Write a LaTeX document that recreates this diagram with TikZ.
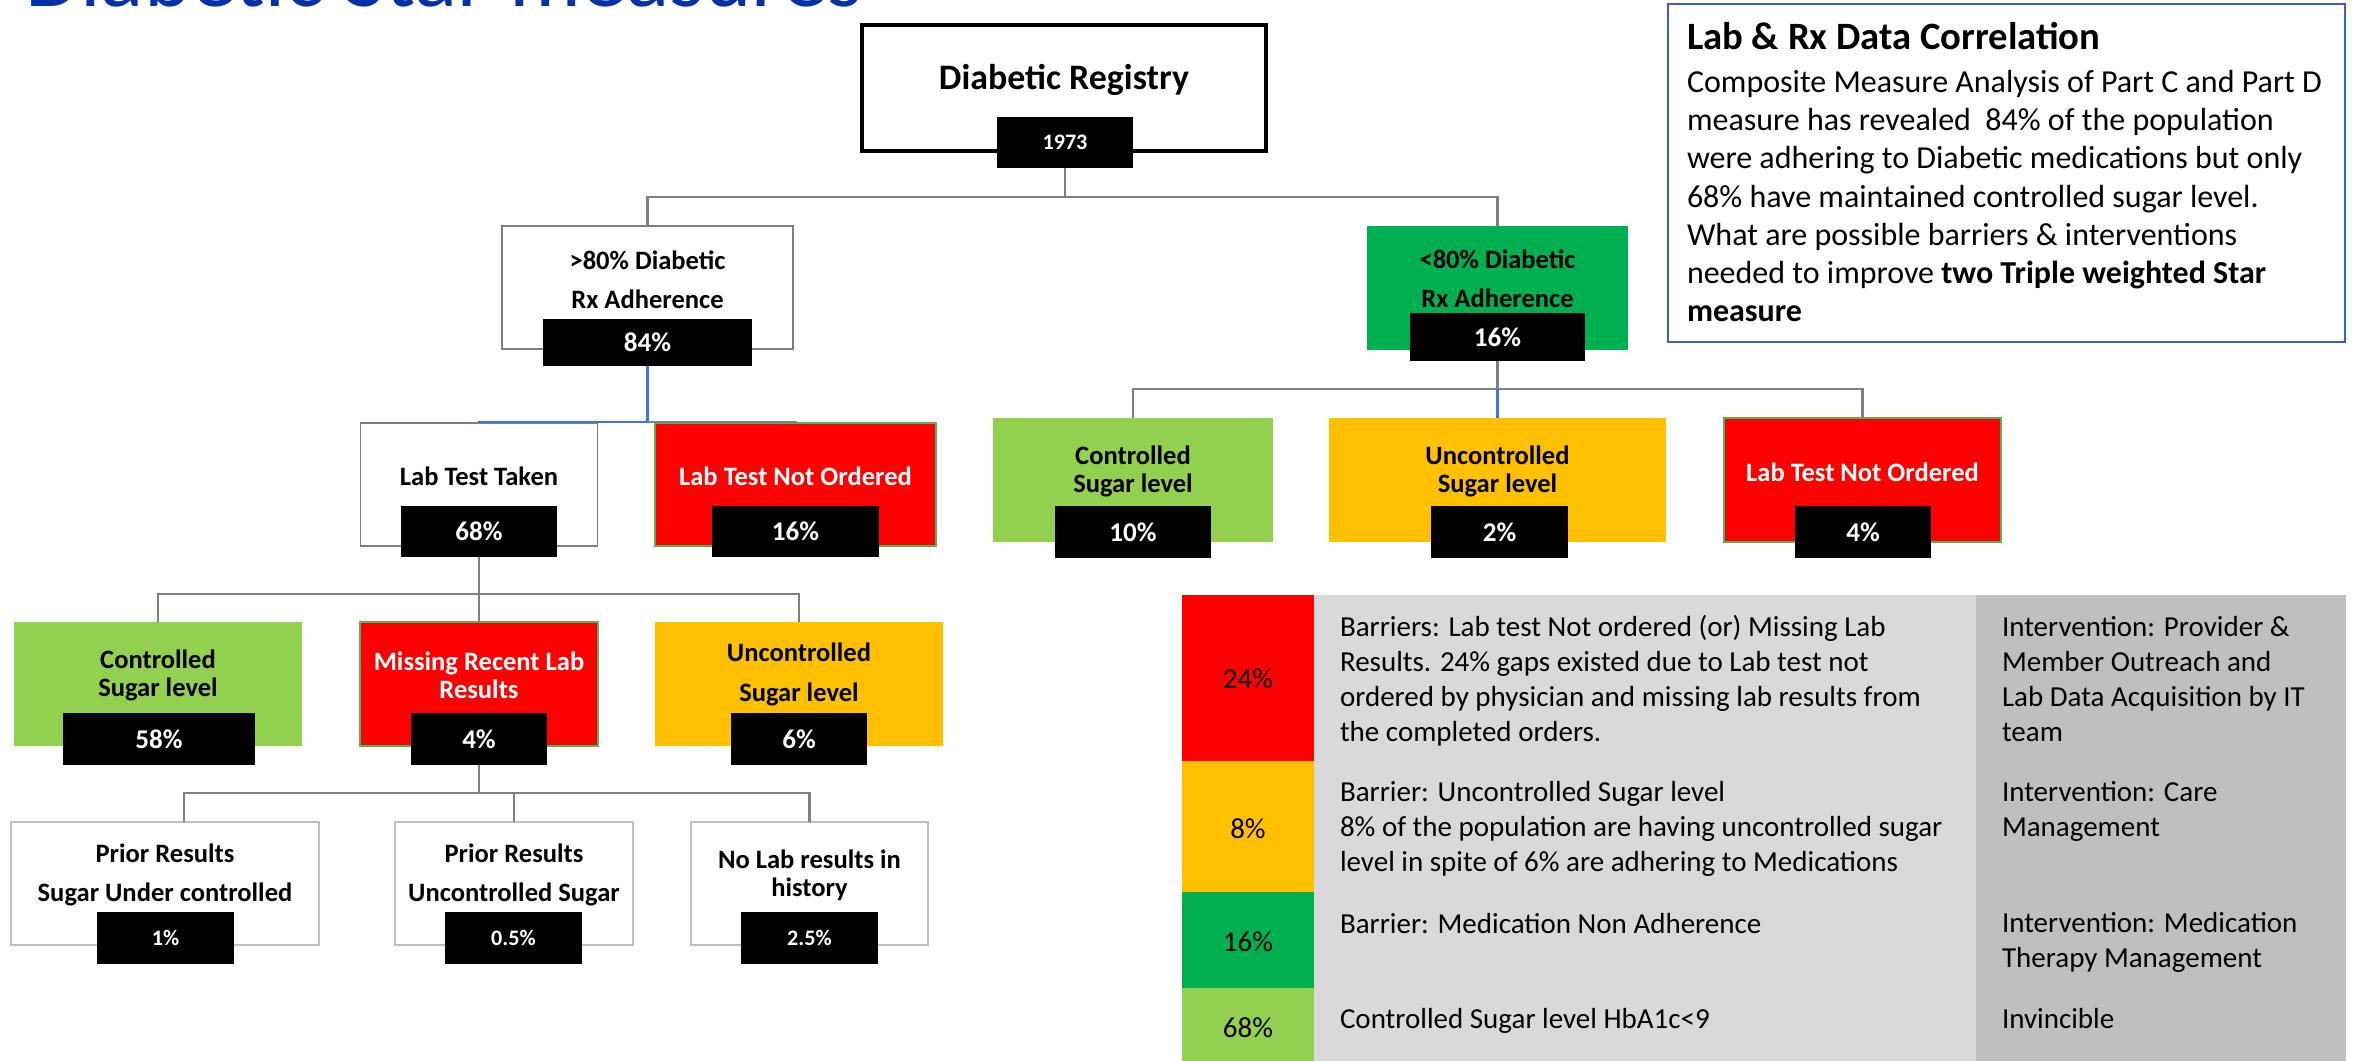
\documentclass[tikz,border=0pt]{standalone}
\usepackage{fontspec}
\setmainfont{Carlito}
\definecolor{xred}{RGB}{255,0,0}
\definecolor{dgreen}{RGB}{0,176,80}
\definecolor{lgreen}{RGB}{146,208,80}
\definecolor{xorange}{RGB}{255,192,0}
\definecolor{linegray}{RGB}{128,128,128}
\definecolor{linkblue}{RGB}{66,114,232}
\definecolor{boxgray}{RGB}{127,127,127}
\definecolor{lightline}{RGB}{191,191,191}
\definecolor{redline}{RGB}{80,180,90}
\definecolor{titleblue}{RGB}{4,50,166}
\definecolor{frameblue}{RGB}{60,95,200}
\definecolor{cellmid}{RGB}{217,217,217}
\definecolor{cellright}{RGB}{191,191,191}

\begin{document}
\begin{tikzpicture}[x=0.01cm,y=-0.01cm,
    every node/.style={inner sep=0pt,outer sep=0pt},
    sz/.style 2 args={minimum width=#1,minimum height=#2},
    wbox/.style={fill=white,draw=boxgray,line width=0.45pt},
    lbox/.style={fill=white,draw=lightline,line width=0.45pt},
    rbox/.style={fill=xred,draw=redline,line width=0.35pt},
    conn/.style={draw=linegray,line width=0.6pt},
    bconn/.style={draw=linkblue,line width=0.6pt},
    pct/.style={fill=black,text=white,font=\fontsize{7.7}{8}\selectfont\bfseries},
    spct/.style={fill=black,text=white,font=\fontsize{6.3}{7}\selectfont\bfseries},
    txt/.style={align=center,font=\fontsize{7.55}{8}\selectfont\bfseries},
    ltxt/.style={align=center,font=\fontsize{7.55}{11.2}\selectfont\bfseries},
    tbl/.style={anchor=base west,align=left,font=\fontsize{8.25}{9.96}\selectfont},
    tpct/.style={font=\fontsize{8.25}{9.96}\selectfont}]
    \useasboundingbox (0,0) rectangle (2359,1061);
    \clip (0,0) rectangle (2359,1061);

    \node[anchor=base west,text=titleblue,font=\fontsize{25.6}{30}\selectfont] (title) at (25,7) {Diabetic Star measures};

    \node[draw=black,line width=1pt,fill=white,sz={4.04cm}{1.26cm}] (reg) at (1064,88) {};
    \node[font=\fontsize{10.2}{12}\selectfont\bfseries] (regt) at (1064,80) {Diabetic Registry};
    \node[spct,sz={1.36cm}{0.51cm}] (n1973) at (1065,142.5) {1973};

    \node[wbox,sz={2.91cm}{1.23cm}] (gt80) at (647.5,287.5) {};
    \node[ltxt] (gt80t) at (647.5,279.5) {>80\% Diabetic\\Rx Adherence};
    \node[pct,sz={2.08cm}{0.47cm}] (p84) at (647.5,342.5) {84\%};

    \node[fill=dgreen,sz={2.61cm}{1.24cm}] (lt80) at (1497.5,288) {};
    \node[ltxt] (lt80t) at (1497.5,279) {<80\% Diabetic\\Rx Adherence};
    \node[pct,sz={1.75cm}{0.48cm}] (p16a) at (1497.5,337) {16\%};

    \node[wbox,sz={2.37cm}{1.23cm}] (taken) at (479,484.5) {};
    \node[txt] (takent) at (479,476) {Lab Test Taken};
    \node[pct,sz={1.55cm}{0.51cm}] (p68) at (479,531.5) {68\%};

    \node[rbox,sz={2.81cm}{1.23cm}] (notord) at (795.5,484.5) {};
    \node[txt,text=white] (notordt) at (795.5,476) {Lab Test Not Ordered};
    \node[pct,sz={1.67cm}{0.51cm}] (p16b) at (795.5,531.5) {16\%};

    \node[fill=lgreen,sz={2.80cm}{1.24cm}] (ctrlb) at (1133,480) {};
    \node[txt] (ctrlbt) at (1133,471.5) {Controlled\\Sugar level};
    \node[pct,sz={1.56cm}{0.52cm}] (p10) at (1133,532) {10\%};

    \node[fill=xorange,sz={3.37cm}{1.24cm}] (uncb) at (1497.5,480) {};
    \node[txt] (uncbt) at (1497.5,471.5) {Uncontrolled\\Sugar level};
    \node[pct,sz={1.37cm}{0.52cm}] (p2) at (1499.5,532) {2\%};

    \node[rbox,sz={2.77cm}{1.24cm}] (notordb) at (1862.5,480) {};
    \node[txt,text=white] (notordbt) at (1862.5,472) {Lab Test Not Ordered};
    \node[pct,sz={1.36cm}{0.52cm}] (p4b) at (1863,532) {4\%};

    \node[fill=lgreen,sz={2.88cm}{1.24cm}] (ctrla) at (158,684) {};
    \node[txt] (ctrlat) at (158,675.5) {Controlled\\Sugar level};
    \node[pct,sz={1.92cm}{0.52cm}] (p58) at (159,739) {58\%};

    \node[rbox,sz={2.38cm}{1.24cm}] (miss) at (479,684) {};
    \node[txt,text=white] (misst) at (479,675.5) {Missing Recent Lab\\Results};
    \node[pct,sz={1.36cm}{0.52cm}] (p4a) at (479,739) {4\%};

    \node[fill=xorange,sz={2.88cm}{1.24cm}] (unca) at (799,684) {};
    \node[ltxt] (uncat) at (799,674.5) {Uncontrolled\\Sugar level};
    \node[pct,sz={1.36cm}{0.52cm}] (p6) at (799,739) {6\%};

    \node[lbox,sz={3.08cm}{1.23cm}] (prior1) at (165,883.5) {};
    \node[ltxt] (prior1t) at (165,875) {Prior Results\\Sugar Under controlled};
    \node[spct,sz={1.37cm}{0.52cm}] (p1) at (165.5,938) {1\%};

    \node[lbox,sz={2.38cm}{1.23cm}] (prior2) at (514,883.5) {};
    \node[ltxt] (prior2t) at (514,875) {Prior Results\\Uncontrolled Sugar};
    \node[spct,sz={1.37cm}{0.52cm}] (p05) at (513.5,938) {0.5\%};

    \node[lbox,sz={2.37cm}{1.23cm}] (nolab) at (809.5,883.5) {};
    \node[txt] (nolabt) at (809.5,875.5) {No Lab results in\\history};
    \node[spct,sz={1.37cm}{0.52cm}] (p25) at (809.5,938) {2.5\%};

    \draw[conn] (n1973.south) -- ++(0,29) -| (gt80.north);
    \draw[conn] (n1973.south) -- ++(0,29) -| (lt80.north);
    \draw[conn] (p84.south) ++(0,56) -| (notord.north);
    \draw[bconn] (p84.south) -- ++(0,56) -| (taken.north);
    \draw[conn] (p16a.south) -- ++(0,28) -| (ctrlb.north);
    \draw[conn] (p16a.south) ++(0,28) -| (notordb.north);
    \draw[bconn] (p16a.south) ++(0,28) -- (uncb.north);
    \draw[conn] (p68.south) -- ++(0,37) -| (ctrla.north);
    \draw[conn] (p68.south) ++(0,37) -| (unca.north);
    \draw[conn] (p68.south) -- (miss.north);
    \draw[conn] (p4a.south) -- ++(0,28) -| ([xshift=0.19cm]prior1.north);
    \draw[conn] (p4a.south) ++(0,28) -| (prior2.north);
    \draw[conn] (p4a.south) ++(0,28) -| (nolab.north);

    \node[draw=frameblue,line width=0.45pt,sz={6.77cm}{3.38cm}] (corr) at (2006.5,173) {};
    \node[anchor=base west,font=\fontsize{11}{13}\selectfont\bfseries] (corrt) at (1687,50) {Lab \& Rx Data Correlation};
    \node[anchor=base west,align=left,font=\fontsize{9.1}{10.9}\selectfont] (corrb) at (1687,322) {Composite Measure Analysis of Part C and Part D\\measure has revealed \ 84\% of the population\\were adhering to Diabetic medications but only\\68\% have maintained controlled sugar level.\\What are possible barriers \& interventions\\needed to improve \textbf{two Triple weighted Star}\\\textbf{measure}};

    \fill[xred] (1182,595) rectangle (1314,761);
    \fill[xorange] (1182,761) rectangle (1314,892);
    \fill[dgreen] (1182,892) rectangle (1314,988);
    \fill[lgreen] (1182,988) rectangle (1314,1070);
    \fill[cellmid] (1314,595) rectangle (1976,1070);
    \fill[cellright] (1976,595) rectangle (2346,1070);

    \node[tpct] (c24) at (1248,679) {24\%};
    \node[tpct] (c8) at (1248,829) {8\%};
    \node[tpct] (c16) at (1248,942) {16\%};
    \node[tpct] (c68) at (1248,1028) {68\%};

    \node[tbl] (bar1) at (1340,742) {Barriers: Lab test Not ordered (or) Missing Lab\\Results. 24\% gaps existed due to Lab test not\\ordered by physician and missing lab results from\\the completed orders.};
    \node[tbl] (bar2) at (1340,872) {Barrier: Uncontrolled Sugar level\\8\% of the population are having uncontrolled sugar\\level in spite of 6\% are adhering to Medications};
    \node[tbl] (bar3) at (1340,933) {Barrier: Medication Non Adherence};
    \node[tbl] (bar4) at (1340,1029) {Controlled Sugar level HbA1c<9};

    \node[tbl] (int1) at (2002,742) {Intervention: Provider \&\\Member Outreach and\\Lab Data Acquisition by IT\\team};
    \node[tbl] (int2) at (2002,837) {Intervention: Care\\Management};
    \node[tbl] (int3) at (2002,968) {Intervention: Medication\\Therapy Management};
    \node[tbl] (int4) at (2002,1029) {Invincible};
\end{tikzpicture}
\end{document}
